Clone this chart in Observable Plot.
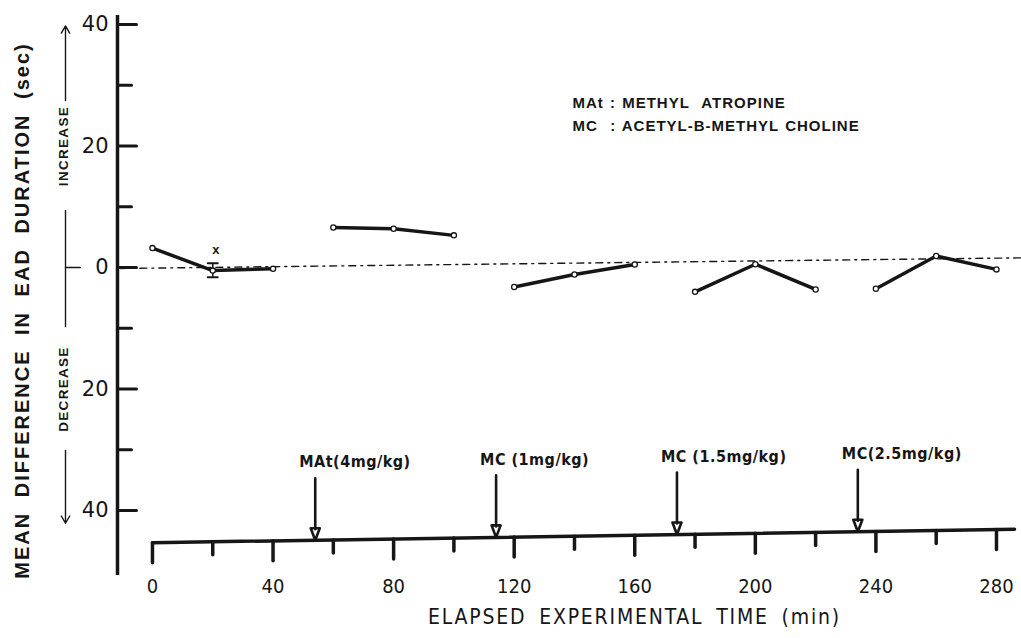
<!DOCTYPE html>
<html><head><meta charset="utf-8">
<script src="https://cdn.jsdelivr.net/npm/d3@7"></script>
<script src="https://cdn.jsdelivr.net/npm/@observablehq/plot@0.6"></script>
<style>
html,body{margin:0;padding:0;background:#fff;}
#chart svg{display:block;}
</style></head><body><div id="chart"></div>
<script>
// ---- data ----
const times    = [0, 20, 40, 60, 80, 100, 120, 140, 160, 180, 200, 220, 240, 260, 280];
const meanDiff = [3.2, -0.5, -0.2, 6.6, 6.4, 5.3, -3.2, -1.15, 0.5, -4.0, 0.55, -3.6, -3.5, 1.9, -0.3];
const periods  = ["control","control","control","MAt","MAt","MAt","MC1","MC1","MC1","MC1.5","MC1.5","MC1.5","MC2.5","MC2.5","MC2.5"];
const errorBar = {t: 20, low: -1.6, high: 0.7};
const xMarker  = {t: 21, v: 3.0, label: "x"};
const xTickValues  = [0, 40, 80, 120, 160, 200, 240, 280];
const xMinorValues = [20, 60, 100, 140, 180, 220, 260];
const yMajorTicks  = [40, 20, 0, -20, -40];
const yMinorTicks  = [30, 10, -10, -30];
const doseTimes  = [54, 114, 174, 234];
const doseLabels = ["MAt(4mg/kg)", "MC (1mg/kg)", "MC (1.5mg/kg)", "MC(2.5mg/kg)"];
const legendLines = ["MAt : METHYL  ATROPINE", "MC  : ACETYL-B-METHYL CHOLINE"];
const sideLabels = [{v: 20, label: "INCREASE"}, {v: -20, label: "DECREASE"}];
const sideArrows = [{from: 27.5, to: 39.8}, {from: -30.1, to: -42.1}];
const sideLine   = [{from: 9.4, to: -9.9}];
const zeroLine   = [{t: -10.5, v: -0.15}, {t: 288.3, v: 1.6}];
const baseline   = [{t: 0, v: -45.3}, {t: 286, v: -43.1}];
const yTitle = "MEAN DIFFERENCE IN EAD DURATION (sec)";
const xTitle = "ELAPSED EXPERIMENTAL TIME (min)";

const data = times.map((t, i) => ({t, v: meanDiff[i], period: periods[i]}));
const xDomain = [-11.6, 288.3];
const yDomain = [-50.7, 41.5];
const axisAt = t => baseline[0].v + (baseline[1].v - baseline[0].v) * (t - baseline[0].t) / (baseline[1].t - baseline[0].t);

const lineShape = {draw(ctx, l) { ctx.moveTo(0, 0); ctx.lineTo(0, -l); }};
const doseArrow = {draw(ctx, l) {
  ctx.moveTo(0, 0); ctx.lineTo(0, -l + 11);
  ctx.moveTo(0, -l); ctx.lineTo(-4.5, -l + 12); ctx.lineTo(4.5, -l + 12); ctx.closePath();
}};

const narrow = "'Liberation Sans Narrow', 'DejaVu Sans Condensed', 'Liberation Sans', sans-serif";
const ink = "#161616";

const chart = Plot.plot({
  width: 1021, height: 638,
  marginLeft: 117, marginRight: 0, marginTop: 15, marginBottom: 63,
  x: {domain: xDomain},
  y: {domain: yDomain},
  style: {background: "#fff", color: ink, fontFamily: "'Liberation Sans', sans-serif"},
  marks: [
    // zero reference line (dash-dot)
    Plot.line(zeroLine, {x: "t", y: "v", stroke: ink, strokeWidth: 1.4, strokeDasharray: "7,5,2,5"}),
    // y axis line & ticks
    Plot.ruleX([xDomain[0]], {y1: yDomain[0], y2: yDomain[1], stroke: ink, strokeWidth: 3.5}),
    Plot.vector(yMajorTicks, {x: xDomain[0], y: d => d, rotate: 90, anchor: "start", length: 19, shape: lineShape, stroke: ink, strokeWidth: 3}),
    Plot.vector(yMinorTicks, {x: xDomain[0], y: d => d, rotate: 90, anchor: "start", length: 14, shape: lineShape, stroke: ink, strokeWidth: 3}),
    Plot.axisY({ticks: yMajorTicks, tickFormat: d => Math.abs(d), tickSize: 0, tickPadding: 9, fontSize: 21, fontFamily: "'DejaVu Sans', sans-serif", label: null}),
    // slanted time axis with hanging ticks
    Plot.line(baseline, {x: "t", y: "v", stroke: ink, strokeWidth: 3.5}),
    Plot.vector(xTickValues, {x: d => d, y: d => axisAt(d), rotate: 180, anchor: "start", length: 20, shape: lineShape, stroke: ink, strokeWidth: 3.5}),
    Plot.vector(xMinorValues, {x: d => d, y: d => axisAt(d), rotate: 180, anchor: "start", length: 13, shape: lineShape, stroke: ink, strokeWidth: 3.5}),
    Plot.axisX({ticks: xTickValues, tickSize: 0, tickPadding: 3, fontSize: 20, fontFamily: narrow, label: null}),
    Plot.text([xTitle], {frameAnchor: "bottom", dx: 65, dy: 48, fontSize: 21, fontFamily: narrow}),
    // y title and side brackets
    Plot.text([yTitle], {frameAnchor: "left", textAnchor: "middle", rotate: -90, dx: -95, dy: 15, fontSize: 20, fontWeight: "bold"}),
    Plot.text(sideLabels, {y: "v", text: "label", frameAnchor: "left", textAnchor: "middle", dx: -54, rotate: -90, fontSize: 13.5, fontWeight: "bold"}),
    Plot.arrow(sideArrows, {x1: xDomain[0], x2: xDomain[0], y1: "from", y2: "to", dx: -52, stroke: ink, strokeWidth: 1.4, headLength: 9}),
    Plot.ruleX(sideLine, {x: xDomain[0], y1: "from", y2: "to", dx: -52, stroke: ink, strokeWidth: 1.4}),
    Plot.vector([0], {x: xDomain[0], y: d => d, dx: -52, rotate: 90, anchor: "start", length: 15, shape: lineShape, stroke: ink, strokeWidth: 1.4}),
    // data
    Plot.ruleX([errorBar], {x: "t", y1: "low", y2: "high", stroke: ink, strokeWidth: 1.6}),
    Plot.vector([errorBar.low, errorBar.high], {x: errorBar.t, y: d => d, rotate: 90, anchor: "middle", length: 10, shape: lineShape, stroke: ink, strokeWidth: 2}),
    Plot.line(data, {x: "t", y: "v", z: "period", stroke: ink, strokeWidth: 3.5}),
    Plot.dot(data, {x: "t", y: "v", r: 2.6, fill: "white", stroke: ink, strokeWidth: 1.3}),
    Plot.text([xMarker], {x: "t", y: "v", text: "label", fontSize: 13, fontWeight: "bold"}),
    // drug administrations
    Plot.vector(doseTimes, {x: d => d, y: d => axisAt(d), rotate: 180, anchor: "end", length: 62, shape: doseArrow, stroke: ink, strokeWidth: 2.6}),
    Plot.text(doseTimes, {x: d => d, y: d => axisAt(d), text: (d, i) => doseLabels[i], dx: -16, dy: -78, textAnchor: "start", fontSize: 16, fontWeight: "bold", fontFamily: narrow}),
    // legend
    Plot.text([legendLines.join("\n")], {frameAnchor: "top-left", dx: 455, dy: 76, textAnchor: "start", lineAnchor: "top", lineHeight: 1.55, fontSize: 15, fontWeight: "bold"})
  ]
});

// letter/word spacing (not a Plot text option): applied to the rendered text elements
const spacing = [
  {match: s => s === yTitle, ls: "2px", ws: "7px"},
  {match: s => s === xTitle, ls: "1.8px", ws: "5px"},
  {match: s => s === "INCREASE" || s === "DECREASE", ls: "1.3px", ws: "0px"},
  {match: s => doseLabels.includes(s), ls: "0.5px", ws: "0px"},
  {match: s => legendLines.includes(s), ls: "1px", ws: "1px"}
];
d3.select(chart).selectAll("text, tspan").each(function() {
  const s = this.textContent;
  for (const r of spacing) if (r.match(s)) { this.style.letterSpacing = r.ls; this.style.wordSpacing = r.ws; }
});
document.getElementById("chart").append(chart);
</script>
</body></html>
